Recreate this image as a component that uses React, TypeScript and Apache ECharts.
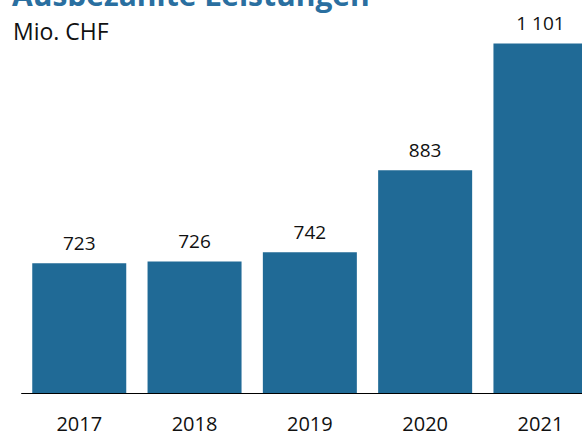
import React, { useEffect, useRef } from "react";
import * as echarts from "echarts";

const categories = ["2017", "2018", "2019", "2020", "2021"];
const values = [723, 726, 742, 883, 1101];
const titleText = "Ausbezahlte Leistungen";
const unitText = "Mio. CHF";

function fmt(v: number): string {
  return String(v).replace(/\B(?=(\d{3})+(?!\d))/g, " ");
}

export default function App() {
  const ref = useRef<HTMLDivElement>(null);
  useEffect(() => {
    if (!ref.current) return;
    const chart = echarts.init(ref.current, undefined, { renderer: "svg" });
    const font = "'Open Sans', 'Noto Sans', sans-serif";
    chart.setOption({
      animation: false,
      textStyle: { fontFamily: font },
      grid: {
        left: 21.6,
        width: 576.5,
        top: 15,
        bottom: 42,
        containLabel: false,
        outerBoundsMode: "none",
      },
      xAxis: {
        type: "category",
        data: categories,
        axisLine: { show: true, lineStyle: { color: "#000", width: 1 } },
        axisTick: { show: false },
        axisLabel: { color: "#111", fontSize: 20, fontFamily: font, margin: 20 },
      },
      yAxis: {
        type: "value",
        min: 500,
        max: 1150,
        show: false,
        splitLine: { show: false },
      },
      graphic: [
        {
          type: "text",
          left: 12,
          top: -21,
          style: {
            text: titleText,
            fill: "#2a6fa0",
            font: `bold 30px ${font}`,
          },
        },
        {
          type: "text",
          left: 13,
          top: 19,
          style: {
            text: unitText,
            fill: "#111",
            font: `23px ${font}`,
          },
        },
      ],
      series: [
        {
          type: "bar",
          data: values,
          barWidth: 94,
          itemStyle: { color: "#206a96" },
          label: {
            show: true,
            position: "top",
            distance: 11,
            color: "#111",
            fontSize: 19,
            fontFamily: font,
            formatter: (p: any) => fmt(p.value),
          },
        },
      ],
    });
    return () => chart.dispose();
  }, []);
  return <div ref={ref} style={{ width: 582, height: 435, position: "absolute", left: 0, top: 0 }} />;
}
